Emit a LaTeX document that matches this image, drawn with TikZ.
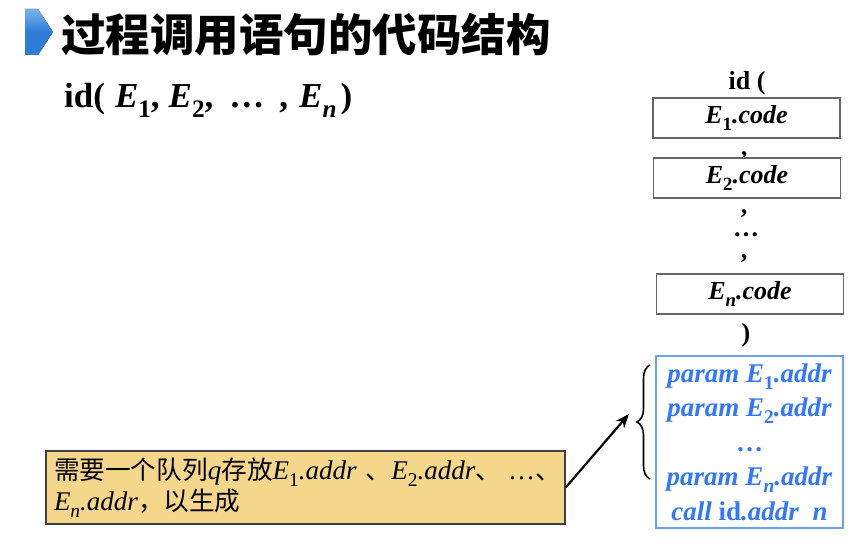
\documentclass[tikz,border=0pt]{standalone}
\usepackage{fontspec}
\setmainfont{Liberation Serif}
\newfontfamily\cjk{Noto Sans CJK SC}
\newfontfamily\cjknote{Noto Sans CJK SC}[Scale=0.95]
\usetikzlibrary{arrows.meta,decorations.pathreplacing}

\definecolor{titleblue}{RGB}{45,125,215}
\definecolor{titlelight}{RGB}{120,180,235}
\definecolor{parblue}{RGB}{50,120,250}
\definecolor{parframe}{RGB}{110,160,240}
\definecolor{noteyellow}{RGB}{245,215,140}

% bold italic piece of code text
\newcommand{\ct}[1]{\textbf{\textit{#1}}}
% subscript set a little lower, as on the slide
\newcommand{\lowsub}[1]{\raisebox{-0.27em}{\scalebox{0.72}{#1}}}

\tikzset{
  codebox/.style={draw=black!60, line width=1.2pt, minimum width=187pt, minimum height=40pt,
    inner sep=0pt, font=\fontsize{26}{28}\selectfont},
  punct/.style={inner sep=0pt, font=\fontsize{26}{28}\selectfont\bfseries},
}

\begin{document}
\begin{tikzpicture}[x=1pt,y=-1pt]

    \useasboundingbox (0,0) rectangle (857,556);

    % Title marker and title
    \fill[top color=titlelight, bottom color=titleblue, middle color=titleblue]
        (25,9) -- (38,9) -- (53,32) -- (38,55) -- (25,55) -- cycle;
    \node[anchor=west, inner sep=0pt] (title) at (61,35)
        {\cjk\bfseries\fontsize{44.5}{46}\selectfont 过程调用语句的代码结构};

    % The call statement
    \node[anchor=base west, inner sep=0pt] (call) at (64,108)
        {\fontsize{35}{38}\selectfont\textbf{id(}\hspace{10pt}\ct{E}\lowsub{\textbf{1}}\textbf{,}\hspace{9pt}%
         \ct{E}\lowsub{\textbf{2}}\textbf{,}\hspace{16pt}\textbf{\dots}\hspace{15pt}\textbf{,}\hspace{11pt}%
         \ct{E}\lowsub{\ct{n}}\hspace{4pt}\textbf{)}};

    % Right column: the code layout
    \node[punct, anchor=base] (idopen) at (747,90) {id (};
    \node[codebox] (code1) at (746.5,118) {\ct{E}\lowsub{\textbf{1}}\ct{.code}};
    \node[punct] (comma1) at (744,156) {,};
    \node[codebox] (code2) at (747,178) {\ct{E}\lowsub{\textbf{2}}\ct{.code}};
    \node[punct] (comma2) at (744,214) {,};
    \node[punct] (dots) at (746,235) {\dots};
    \node[punct] (comma3) at (744,259) {,};
    \node[codebox] (coden) at (750,294) {\ct{E}\lowsub{\ct{n}}\ct{.code}};
    \node[punct] (close) at (746,335) {)};

    % Blue box with the generated instructions
    \node[draw=parframe, line width=1.6pt, minimum width=187pt, minimum height=172pt, inner sep=0pt,
          text=parblue, align=center, font=\fontsize{27}{34.5}\selectfont]
        (params) at (749.5,442)
        {\ct{param E}\lowsub{\textbf{1}}\ct{.addr}\\
         \ct{param E}\lowsub{\textbf{2}}\ct{.addr}\\
         \textbf{\dots}\\
         \ct{param E}\lowsub{\ct{n}}\ct{.addr}\\
         \ct{call} \textbf{id}\ct{.addr\ \ n}};

    % Brace over the param lines
    \draw[line width=1.6pt, decorate, decoration={brace, amplitude=13pt}]
        (650,479) -- (650,365);
    \coordinate (bracetip) at (629,414);

    % Note box
    \node[draw=black!75, line width=1.4pt, fill=noteyellow, minimum height=73pt,
          inner xsep=8pt, inner ysep=4pt, text width=503pt, align=left,
          font=\fontsize{27}{31}\selectfont]
        (note) at (305.5,487.5)
        {\mbox{\cjknote 需要一个队列\rmfamily\textit{q}\cjknote 存放\rmfamily\textit{E}\lowsub{1}\textit{.addr}\hspace{9pt}\cjknote 、\rmfamily\textit{E}\lowsub{2}\textit{.addr}\cjknote 、\rmfamily\hspace{7pt}\dots\cjknote 、}\\
         \mbox{\textit{E}\lowsub{\textit{n}}\textit{.addr}\cjknote ，以生成}};

    % Arrow from note to brace
    \draw[-{Stealth[length=14pt,width=11pt]}, line width=2.2pt] (note.east) -- (bracetip);

\end{tikzpicture}
\end{document}
